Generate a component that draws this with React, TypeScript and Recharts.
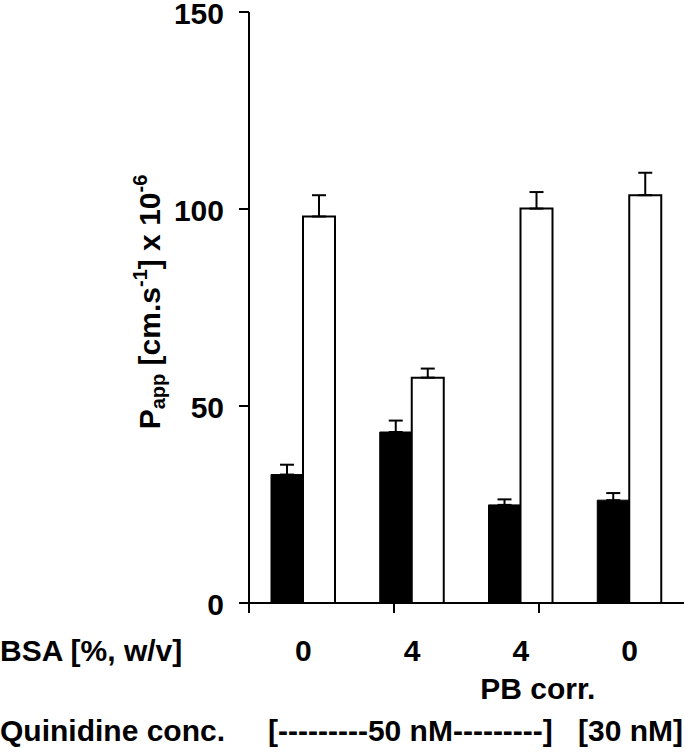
import { BarChart, Bar, XAxis, YAxis, ErrorBar } from "recharts";

const bsaLabels = ["0", "4", "4", "0"];
const bsaNotes = ["", "", "PB corr.", ""];
const papAtoB = [32.6, 43.4, 24.9, 26.1];
const papAtoBErr = [2.5, 2.9, 1.4, 1.8];
const papBtoA = [98.1, 57.2, 100.1, 103.5];
const papBtoAErr = [5.4, 2.3, 4.2, 5.7];
const yTicks = [0, 50, 100, 150];
const groupEdges = [0, 1, 2, 3, 4];

const rows = bsaLabels.map((bsa, i) => ({
  bsa,
  atob: papAtoB[i],
  atobErr: [0, papAtoBErr[i]],
  btoa: papBtoA[i],
  btoaErr: [0, papBtoAErr[i]],
}));

const FONT = "'Liberation Sans', Arial, sans-serif";
const txt = { fontFamily: FONT, fontWeight: 700, fontSize: 30, fill: "#000" };

function BsaTick(props: any) {
  const { x, y, payload, index } = props;
  const note = bsaNotes[index];
  return (
    <g>
      <text x={x} y={y + 48} textAnchor="middle" {...txt}>
        {payload.value}
      </text>
      {note && (
        <text x={x + 17} y={y + 86} textAnchor="middle" {...txt}>
          {note}
        </text>
      )}
    </g>
  );
}

function ValueTick(props: any) {
  const { x, y, payload } = props;
  return (
    <text x={x} y={y + 12} textAnchor="end" {...txt}>
      {payload.value}
    </text>
  );
}

function RowHeaders() {
  return (
    <g>
      <text x={0} y={661} {...txt}>BSA [%, w/v]</text>
      <text x={0} y={741} {...txt}>Quinidine conc.</text>
      <text x={268} y={741} {...txt}>[---------50 nM---------]</text>
      <text x={683} y={741} textAnchor="end" {...txt}>[30 nM]</text>
    </g>
  );
}

function YLabel() {
  return (
    <text x={160} y={302} textAnchor="middle" transform="rotate(-90 160 302)" {...txt}>
      P
      <tspan fontSize={20} dy={5}>app</tspan>
      <tspan dy={-5}> [cm.s</tspan>
      <tspan fontSize={20} dy={-13}>-1</tspan>
      <tspan dy={13}>] x 10</tspan>
      <tspan fontSize={20} dy={-13}>-6</tspan>
    </text>
  );
}

export default function App() {
  return (
    <div style={{ position: "absolute", left: 0, top: 0, width: 685, height: 753, background: "#fff" }}>
      <BarChart
        width={685}
        height={753}
        data={rows}
        margin={{ top: 12, right: 1, left: 0, bottom: 0 }}
        barSize={32}
        barGap={0}
      >
        <XAxis
          xAxisId="axisEdges"
          type="number"
          domain={[0, 4]}
          ticks={groupEdges}
          tickFormatter={() => ""}
          height={10}
          tickSize={10}
          axisLine={{ stroke: "#000", strokeWidth: 2 }}
          tickLine={{ stroke: "#000", strokeWidth: 2 }}
        />
        <XAxis
          xAxisId="cat"
          dataKey="bsa"
          height={140}
          axisLine={false}
          tickLine={false}
          tickSize={0}
          tickMargin={0}
          interval={0}
          tick={<BsaTick />}
          label={{ content: () => <RowHeaders /> }}
        />
        <YAxis
          domain={[0, 150]}
          ticks={yTicks}
          width={249}
          tickSize={10}
          tickMargin={15}
          interval={0}
          axisLine={{ stroke: "#000", strokeWidth: 2 }}
          tickLine={{ stroke: "#000", strokeWidth: 2 }}
          tick={<ValueTick />}
          label={{ content: () => <YLabel /> }}
        />
        <Bar xAxisId="cat" dataKey="atob" fill="#000" stroke="#000" strokeWidth={1} isAnimationActive={false}>
          <ErrorBar dataKey="atobErr" width={7} stroke="#000" strokeWidth={2} direction="y" />
        </Bar>
        <Bar xAxisId="cat" dataKey="btoa" fill="#fff" stroke="#000" strokeWidth={2} isAnimationActive={false}>
          <ErrorBar dataKey="btoaErr" width={7} stroke="#000" strokeWidth={2} direction="y" />
        </Bar>
      </BarChart>
    </div>
  );
}
